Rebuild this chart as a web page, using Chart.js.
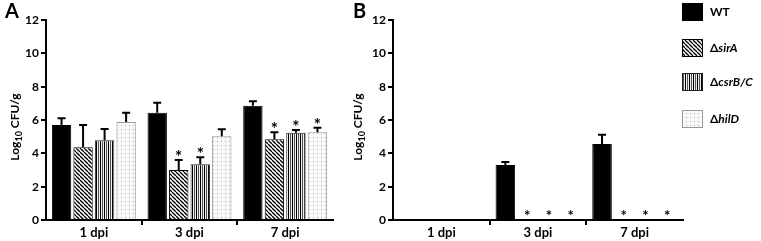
<!DOCTYPE html>
<html>
<head>
<meta charset="utf-8">
<script src="https://cdn.jsdelivr.net/npm/chart.js@4.4.1/dist/chart.umd.min.js"></script>
<style>
  body { margin: 0; background: #fff; }
  #wrap { position: relative; width: 761px; height: 241px; }
  canvas { position: absolute; top: 0; }
  #cA { left: 0; }
  #cB { left: 345px; }
</style>
</head>
<body>
<div id="wrap">
  <canvas id="cA" width="345" height="241"></canvas>
  <canvas id="cB" width="416" height="241"></canvas>
</div>
<script>
// dados
const days = ['1 dpi', '3 dpi', '7 dpi'];
const strains = ['WT', 'sirA', 'csrB/C', 'hilD'];

// painel A
const wtA = [5.7, 6.44, 6.86];
const sirA_A = [4.36, 3.0, 4.84];
const csrA = [4.78, 3.34, 5.24];
const hilA = [5.88, 5.02, 5.26];
const wtAErr = [0.4, 0.6, 0.26];
const sirAErr = [1.34, 0.6, 0.42];
const csrAErr = [0.68, 0.42, 0.16];
const hilAErr = [0.56, 0.42, 0.28];
const sirASig = [false, true, true];
const csrASig = [false, true, true];
const hilASig = [false, false, true];

// painel B
const wtB = [0, 3.3, 4.56];
const sirB = [0, 0, 0];
const csrB = [0, 0, 0];
const hilB = [0, 0, 0];
const wtBErr = [0, 0.18, 0.56];
const mutBSig = [false, true, true];

const yTicks = [0, 2, 4, 6, 8, 10, 12];

const FONT = "Lato, 'Open Sans', sans-serif";

const makePattern = (size, draw) => {
    const c = document.createElement('canvas');
    c.width = size; c.height = size;
    const g = c.getContext('2d');
    draw(g, size);
    return c.getContext('2d').createPattern(c, 'repeat');
};

const diagPat = makePattern(4, (g, s) => {
    g.fillStyle = '#fff'; g.fillRect(0, 0, s, s);
    g.strokeStyle = '#000'; g.lineWidth = 1.3;
    for (const k of [-s, 0, s]) {
        g.beginPath(); g.moveTo(k, 0); g.lineTo(k + s, s); g.stroke();
    }
});
const vertPat = makePattern(4, (g, s) => {
    g.fillStyle = '#eee'; g.fillRect(0, 0, s, s);
    g.fillStyle = '#000'; g.fillRect(0, 0, 1, s);
    g.fillStyle = '#555'; g.fillRect(2, 0, 1, s);
});
const dotPat = makePattern(4, (g, s) => {
    g.fillStyle = '#f8f8f8'; g.fillRect(0, 0, s, s);
    g.fillStyle = '#aaa'; g.fillRect(1, 1, 1, 1);
});

const fills = ['#000', diagPat, vertPat, dotPat];
const borders = ['#000', '#000', '#222', '#999'];

const makeDs = (sets, errs, sigs) => sets.map((d, i) => ({
    label: strains[i], data: d, err: errs[i], sig: sigs[i],
    backgroundColor: fills[i], borderColor: borders[i], borderWidth: 1,
    categoryPercentage: 0.9, barPercentage: 0.9
}));

// barras de erro e asteriscos
const errorBars = {
    id: 'errorBars',
    afterDatasetsDraw(chart) {
        const { ctx, scales: { y } } = chart;
        ctx.save();
        chart.data.datasets.forEach((ds, i) => {
            const meta = chart.getDatasetMeta(i);
            meta.data.forEach((bar, j) => {
                const v = ds.data[j];
                const e = ds.err ? ds.err[j] : 0;
                let top = y.getPixelForValue(v);
                if (e > 0) {
                    top = y.getPixelForValue(v + e);
                    ctx.strokeStyle = '#000'; ctx.lineWidth = 2;
                    ctx.beginPath();
                    ctx.moveTo(bar.x, y.getPixelForValue(v));
                    ctx.lineTo(bar.x, top);
                    ctx.moveTo(bar.x - 4, top);
                    ctx.lineTo(bar.x + 4, top);
                    ctx.stroke();
                }
                if (ds.sig && ds.sig[j]) {
                    ctx.fillStyle = '#000';
                    ctx.textAlign = 'center';
                    ctx.textBaseline = 'alphabetic';
                    if (v > 0) {
                        ctx.font = 'bold 17px ' + FONT;
                        ctx.fillText('*', bar.x, top + 3);
                    } else {
                        ctx.font = 'bold 15px ' + FONT;
                        ctx.fillText('*', bar.x, y.bottom + 1);
                    }
                }
            });
        });
        ctx.restore();
    }
};

// título do eixo y com subscrito e letra do painel
const decor = {
    id: 'decor',
    afterDraw(chart, args, opts) {
        const ctx = chart.ctx;
        ctx.save();
        ctx.fillStyle = '#000';
        ctx.font = 'bold 20px ' + FONT;
        ctx.textAlign = 'left'; ctx.textBaseline = 'top';
        ctx.fillText(opts.letter, opts.letterX, 2);

        ctx.translate(opts.titleX, 127);
        ctx.rotate(-Math.PI / 2);
        const f1 = 'bold 12px ' + FONT, f2 = 'bold 9px ' + FONT;
        ctx.font = f1; const w1 = ctx.measureText('Log').width;
        const w3 = ctx.measureText(' CFU/g').width;
        ctx.font = f2; const w2 = ctx.measureText('10').width;
        let x = -(w1 + w2 + w3) / 2;
        ctx.textBaseline = 'middle'; ctx.textAlign = 'left';
        ctx.font = f1; ctx.fillText('Log', x, 0); x += w1;
        ctx.font = f2; ctx.fillText('10', x, 4); x += w2;
        ctx.font = f1; ctx.fillText(' CFU/g', x, 0);
        ctx.restore();
    }
};

// legenda manual
const legendBox = {
    id: 'legendBox',
    afterDraw(chart, args, opts) {
        if (!opts.show) return;
        const ctx = chart.ctx;
        ctx.save();
        const tops = [3, 39, 73, 110];
        chart.data.datasets.forEach((ds, i) => {
            const y0 = tops[i];
            ctx.fillStyle = ds.backgroundColor;
            ctx.fillRect(opts.x, y0, 21, 18);
            ctx.strokeStyle = ds.borderColor; ctx.lineWidth = 1;
            ctx.strokeRect(opts.x + 0.5, y0 + 0.5, 20, 17);
            ctx.fillStyle = '#000';
            ctx.textBaseline = 'middle'; ctx.textAlign = 'left';
            let tx = opts.x + 28;
            if (i === 0) {
                ctx.font = 'bold 12px ' + FONT;
                ctx.fillText('WT', tx, y0 + 9);
            } else {
                ctx.font = 'bold 12px ' + FONT;
                ctx.fillText('Δ', tx, y0 + 9);
                tx += ctx.measureText('Δ').width;
                ctx.font = 'italic bold 12px ' + FONT;
                ctx.fillText(ds.label, tx, y0 + 9);
            }
        });
        ctx.restore();
    }
};

const makeOptions = (padRight, yWidth, letter, letterX, titleX, showLegend, legendX) => ({
    responsive: false,
    animation: false,
    layout: { padding: { top: 20, right: padRight, left: 0, bottom: 0 } },
    scales: {
        x: {
            offset: true,
            grid: {
                offset: true, drawOnChartArea: false, tickLength: 5, lineWidth: 2,
                color: c => (c.index > 0 && c.index < days.length) ? '#000' : 'rgba(0,0,0,0)'
            },
            border: { color: '#000', width: 2 },
            ticks: { color: '#000', font: { family: FONT, weight: 'bold', size: 13 }, padding: 0 },
            afterFit: s => { s.height = 21; }
        },
        y: {
            min: 0, max: 12,
            afterBuildTicks: s => { s.ticks = yTicks.map(v => ({ value: v })); },
            grid: { drawOnChartArea: false, tickLength: 5, lineWidth: 2, color: '#000' },
            border: { color: '#000', width: 2 },
            ticks: { color: '#000', font: { family: FONT, weight: 'bold', size: 12 }, padding: 2 },
            afterFit: s => { s.width = yWidth; }
        }
    },
    plugins: {
        legend: { display: false },
        tooltip: { enabled: false },
        decor: { letter: letter, letterX: letterX, titleX: titleX },
        legendBox: { show: showLegend, x: legendX }
    }
});

new Chart(document.getElementById('cA'), {
    type: 'bar',
    data: {
        labels: days,
        datasets: makeDs([wtA, sirA_A, csrA, hilA], [wtAErr, sirAErr, csrAErr, hilAErr], [null, sirASig, csrASig, hilASig])
    },
    options: makeOptions(12, 46, 'A', 5, 15, false, 0),
    plugins: [errorBars, decor, legendBox]
});

new Chart(document.getElementById('cB'), {
    type: 'bar',
    data: {
        labels: days,
        datasets: makeDs([wtB, sirB, csrB, hilB], [wtBErr, null, null, null], [null, mutBSig, mutBSig, mutBSig])
    },
    options: makeOptions(78, 48, 'B', 8, 13, true, 337),
    plugins: [errorBars, decor, legendBox]
});
</script>
</body>
</html>
